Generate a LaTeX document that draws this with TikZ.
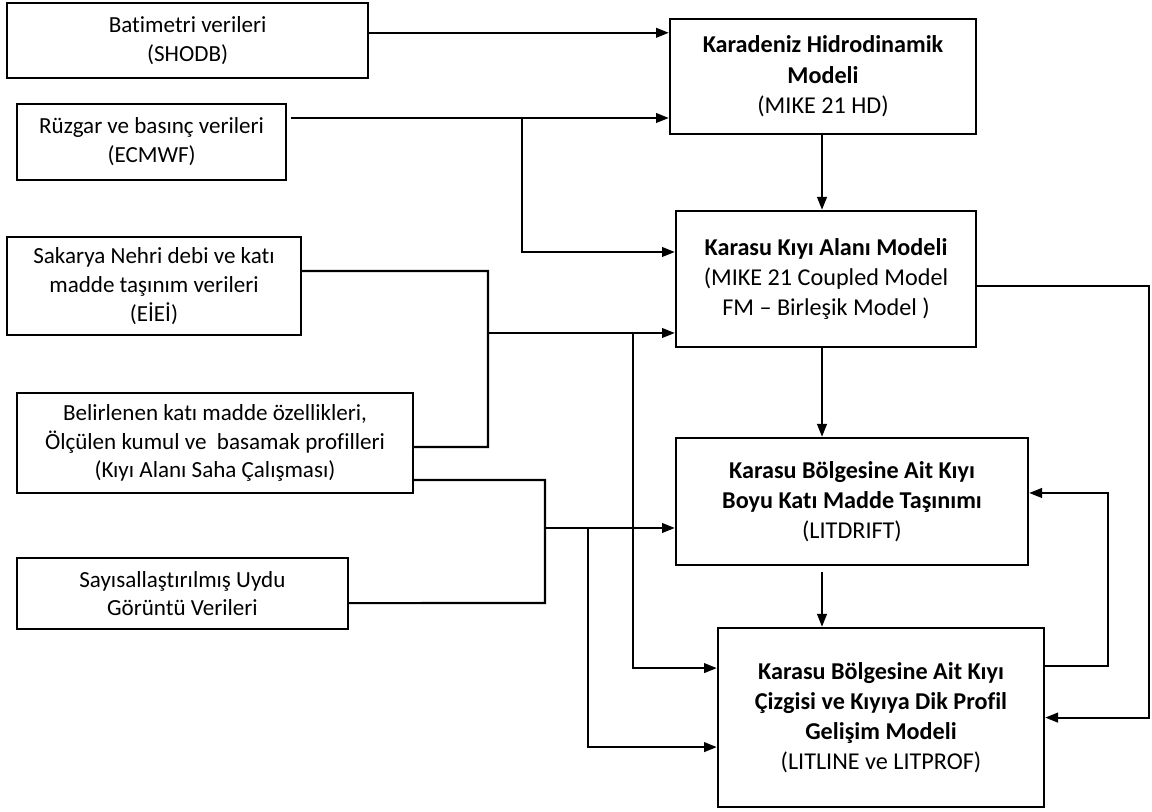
\documentclass[tikz,border=0pt]{standalone}
\usepackage{fontspec}
\setmainfont{Carlito}[Ligatures=NoCommon]
\usetikzlibrary{arrows.meta, calc}

\begin{document}
\begin{tikzpicture}[
  box/.style={rectangle, draw=black, line width=1.7pt, align=center,
    font=\fontsize{16.4}{20.5}\selectfont, inner sep=2pt},
  src/.style={box},
  mdl/.style={box, font=\fontsize{17.2}{21.5}\selectfont},
  line/.style={black, line width=1.5pt},
  arr/.style={line, -{Triangle[length=3.2mm, width=2.4mm]}}
]
\useasboundingbox (0,0) rectangle (28.8,20.3);

%% Data sources (left column)
\node[src, minimum width=9.03cm, minimum height=1.88cm] (bat) at (4.69, 19.29) {Batimetri verileri\\(SHODB)};
\node[src, minimum width=6.73cm, minimum height=1.90cm] (ruz) at (3.79, 16.75) {Rüzgar ve basınç verileri\\(ECMWF)};
\node[src, minimum width=7.35cm, minimum height=2.45cm] (sak) at (3.85, 13.15) {Sakarya Nehri debi ve katı\\madde taşınım verileri\\(EİEİ)};
\node[src, minimum width=9.90cm, minimum height=2.50cm] (bel) at (5.375, 9.225) {Belirlenen katı madde özellikleri,\\Ölçülen kumul ve\ \ basamak profilleri\\(Kıyı Alanı Saha Çalışması)};
\node[src, minimum width=8.28cm, minimum height=1.78cm] (say) at (4.56, 5.46) {Sayısallaştırılmış Uydu\\Görüntü Verileri};

%% Models (right column)
\node[mdl, minimum width=7.65cm, minimum height=2.88cm] (kar) at (20.575, 18.39) {\textbf{Karadeniz Hidrodinamik}\\\textbf{Modeli}\\(MIKE 21 HD)};
\node[mdl, minimum width=7.50cm, minimum height=3.40cm] (kiyi) at (20.65, 13.325) {\textbf{Karasu Kıyı Alanı Modeli}\\(MIKE 21 Coupled Model\\FM – Birleşik Model )};
\node[mdl, minimum width=8.80cm, minimum height=3.18cm] (lit) at (21.3, 7.76) {\textbf{Karasu Bölgesine Ait Kıyı}\\\textbf{Boyu Katı Madde Taşınımı}\\(LITDRIFT)};
\node[mdl, minimum width=8.15cm, minimum height=4.48cm] (lin) at (22.025, 2.36) {\textbf{Karasu Bölgesine Ait Kıyı}\\\textbf{Çizgisi ve Kıyıya Dik Profil}\\\textbf{Gelişim Modeli}\\(LITLINE ve LITPROF)};

%% Bends and junctions
\coordinate (spine) at (20.55, 0);
\coordinate (ruzj)  at (13.05, 17.35);
\coordinate (sakj)  at (12.2, 11.975);
\coordinate (belj)  at (12.2, 9.125);
\coordinate (drop1) at (15.825, 11.975);
\coordinate (sayj)  at (13.625, 5.225);
\coordinate (litj)  at (13.625, 7.1);
\coordinate (drop2) at (14.7, 7.1);
\coordinate (loopa) at (28.725, 0);
\coordinate (loopb) at (27.7, 7.975);

%% Inputs -> hydrodynamic and coastal model
\draw[arr] ([yshift=1.9mm]bat.east) -- ([yshift=1.9mm]bat.east -| kar.west);
\draw[arr, shorten <=1mm] ([yshift=6mm]ruz.east) -- ([yshift=6mm]ruz.east -| kar.west);
\draw[arr] (ruzj) |- ([yshift=6.75mm]kiyi.west);

%% River + field data -> coastal model, shoreline model
\draw[line] ([yshift=3.75mm]sak.east) -| (belj) -- ([yshift=-1mm]bel.east);
\draw[arr] (sakj) -- (sakj -| kiyi.west);
\draw[arr] (drop1) |- ([yshift=12.375mm]lin.west);

%% Field + satellite data -> littoral drift, shoreline model
\draw[line] ([yshift=-9.25mm]bel.east) -| (sayj) -- ([yshift=-2.375mm]say.east);
\draw[arr] (litj) -- (litj -| lit.west);
\draw[arr] (drop2) |- ([yshift=-7.375mm]lin.west);

%% Model chain
\draw[arr] (kar.south -| spine) -- (kiyi.north -| spine);
\draw[arr] (kiyi.south -| spine) -- (lit.north -| spine);
\draw[arr] ([yshift=-1.5mm]lit.south -| spine) -- (lin.north -| spine);

%% Feedback loops
\draw[arr] ([yshift=-1.75mm]kiyi.east) -| (loopa |- lin.east) -- (lin.east);
\draw[arr] ([yshift=12.875mm]lin.east) -| (loopb) -- (loopb -| lit.east);

\end{tikzpicture}
\end{document}
